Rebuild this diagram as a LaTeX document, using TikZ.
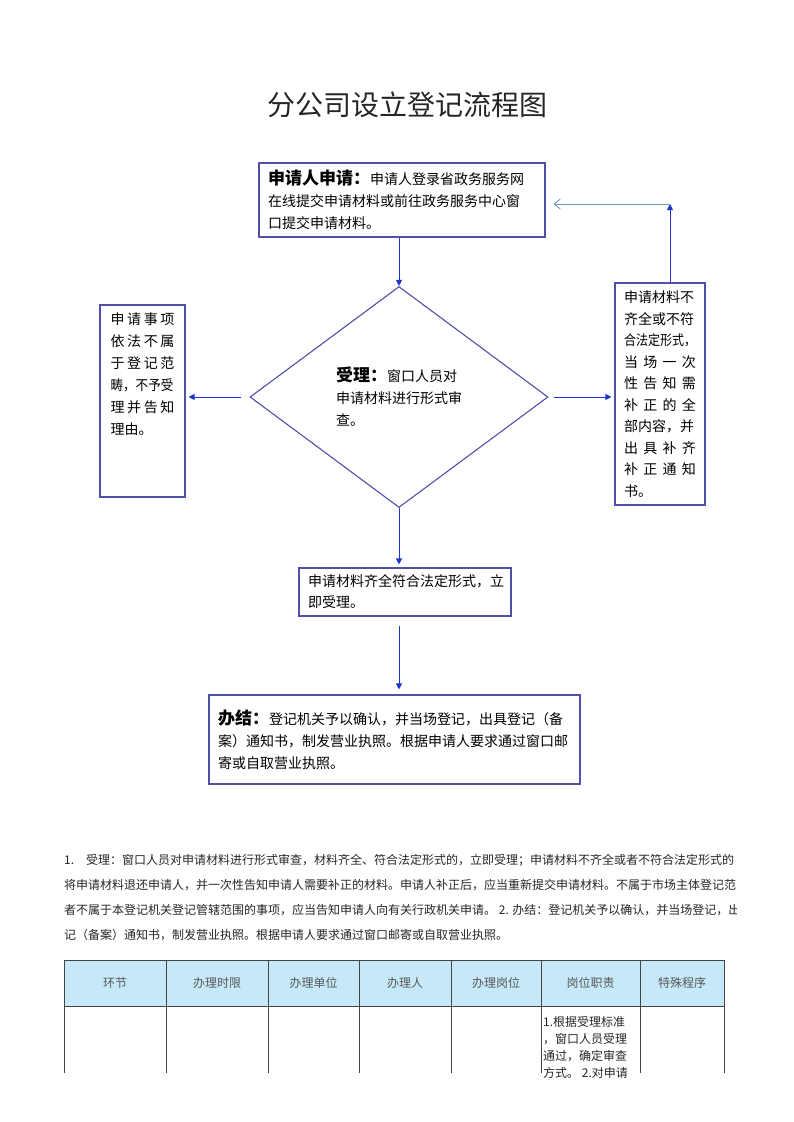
\documentclass[tikz,border=0pt]{standalone}
\usepackage{fontspec}
\usepackage{graphicx}
\setmainfont{Noto Sans CJK SC}
\usetikzlibrary{shapes.geometric,arrows.meta,positioning}
\definecolor{boxline}{HTML}{5050A8}
\definecolor{arrowblue}{HTML}{1F35D0}
\definecolor{backblue}{HTML}{6A9AD0}
\definecolor{headfill}{HTML}{C5E9F8}
\definecolor{rule}{HTML}{444444}
\begin{document}
\begin{tikzpicture}[x=1pt,y=-1pt,
    box/.style={draw=boxline,line width=1.1pt,rectangle,inner sep=0pt},
    txt/.style={font=\fontsize{14}{22}\selectfont,align=left,inner xsep=9pt},
    head/.style={font=\fontsize{17}{22}\selectfont\bfseries},
    arr/.style={arrowblue,line width=0.9pt,-{Triangle[length=6pt,width=6pt]}},
    back/.style={backblue,line width=0.9pt,-{Straight Barb[length=6pt,width=10pt]}},
    hcell/.style={font=\fontsize{12}{14}\selectfont,text=black!65}
  ]
  \useasboundingbox (0,0) rectangle (793,1122);

  \node[font=\fontsize{28}{28}\selectfont,text=black!85] (title) at (407,105) {分公司设立登记流程图};

  \node[box,txt,text width=268pt,minimum height=74pt] (apply) at (402,200)
    {{\bfseries\fontsize{17}{22}\selectfont 申请人申请：}申请人登录省政务服务网\\在线提交申请材料或前往政务服务中心窗\\口提交申请材料。};

  \node[draw=boxline,line width=1.1pt,diamond,minimum width=298pt,minimum height=221pt,
        inner sep=0pt,font=\fontsize{14}{22}\selectfont,align=left] (check) at (399,397)
    {{\bfseries\fontsize{17}{22}\selectfont 受理：}窗口人员对\\申请材料进行形式审\\查。};

  \node[box,minimum width=85pt,minimum height=192pt,font=\fontsize{14}{22}\selectfont] (reject) at (142.5,401)
    {\parbox[c][176pt][t]{64pt}{%
      \makebox[64pt][s]{申\hfill 请\hfill 事\hfill 项}\\
      \makebox[64pt][s]{依\hfill 法\hfill 不\hfill 属}\\
      \makebox[64pt][s]{于\hfill 登\hfill 记\hfill 范}\\
      \makebox[64pt][s]{\scalebox{0.9}[1]{畴，不予受}}\\
      \makebox[64pt][s]{理\hfill 并\hfill 告\hfill 知}\\
      理由。}};

  \node[box,minimum width=90pt,minimum height=222pt,font=\fontsize{14}{21.5}\selectfont] (supply) at (660,394)
    {\parbox{72pt}{%
      \makebox[72pt][s]{申请材料不}\\
      \makebox[72pt][s]{齐全或不符}\\
      \makebox[72pt][s]{\scalebox{0.86}[1]{合法定形式，}}\\
      \makebox[72pt][s]{当\hfill 场\hfill 一\hfill 次}\\
      \makebox[72pt][s]{性\hfill 告\hfill 知\hfill 需}\\
      \makebox[72pt][s]{补\hfill 正\hfill 的\hfill 全}\\
      \makebox[72pt][s]{部内容，并}\\
      \makebox[72pt][s]{出\hfill 具\hfill 补\hfill 齐}\\
      \makebox[72pt][s]{补\hfill 正\hfill 通\hfill 知}\\
      书。}};

  \node[box,txt,text width=194pt,minimum height=48pt,font=\fontsize{14}{21}\selectfont] (accept) at (405,592)
    {申请材料齐全符合法定形式，立\\即受理。};

  \node[box,txt,text width=353pt,minimum height=89pt] (finish) at (394.5,739.5)
    {{\bfseries\fontsize{17}{22}\selectfont 办结：}登记机关予以确认，并当场登记，出具登记（备\\案）通知书，制发营业执照。根据申请人要求通过窗口邮\\寄或自取营业执照。};

  \coordinate (turn) at (670,204);
  \draw[arr] (apply.south -| check.north) -- (check.north);
  \draw[arr,shorten <=8pt,shorten >=3pt] (check.west) -- (check.west -| reject.east);
  \draw[arr,shorten <=5pt,shorten >=3pt] (check.east) -- (check.east -| supply.west);
  \draw[arr] (supply.north -| turn) -- (turn);
  \draw[back,shorten >=8pt] (turn) -- (turn -| apply.east);
  \draw[arr,shorten >=3pt] (check.south) -- (check.south |- accept.north);
  \draw[arr,shorten <=9pt,shorten >=5pt] (accept.south -| check.south) -- (check.south |- finish.north);

  \begin{scope}
    \clip (0,845) rectangle (736,950);
    \node[anchor=north west,inner sep=0pt,font=\fontsize{12}{25}\selectfont,align=left,text=black!85] (notes) at (64,854)
      {1.\hspace{12pt}受理：窗口人员对申请材料进行形式审查，材料齐全、符合法定形式的，立即受理；申请材料不齐全或者不符合法定形式的\\
       将申请材料退还申请人，并一次性告知申请人需要补正的材料。申请人补正后，应当重新提交申请材料。不属于市场主体登记范围或\\
       者不属于本登记机关登记管辖范围的事项，应当告知申请人向有关行政机关申请。 2. 办结：登记机关予以确认，并当场登记，出具登\\
       记（备案）通知书，制发营业执照。根据申请人要求通过窗口邮寄或自取营业执照。};
  \end{scope}

  \fill[headfill] (64,960) rectangle (724,1006);
  \draw[rule,line width=0.8pt] (64,960) -- (724,960) (64,1006) -- (724,1006);
  \foreach \x in {64,166,268,359,451,541,640,724}
    \draw[rule,line width=0.8pt] (\x,960) -- (\x,1073);
  \foreach \x/\name [count=\i] in {115/环节,217/办理时限,313.5/办理单位,405/办理人,496/办理岗位,590.5/岗位职责,682/特殊程序}
    \node[hcell] (col\i) at (\x,983) {\name};
  \node[anchor=north west,inner sep=0pt,font=\fontsize{12}{17}\selectfont,align=left,text=black!85] (duty) at (543,1016)
    {1.根据受理标准\\，窗口人员受理\\通过，确定审查\\方式。 2.对申请};
\end{tikzpicture}
\end{document}
